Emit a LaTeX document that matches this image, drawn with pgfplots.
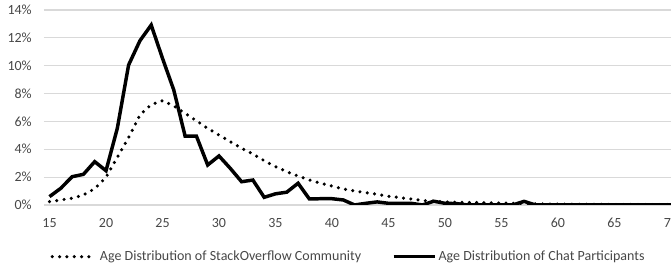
\documentclass[border=0pt]{standalone}
\usepackage{pgfplots}
\pgfplotsset{compat=1.18}
\usepackage{pgfplotstable}
\usepackage{fontspec}
\setmainfont{Carlito}
\definecolor{txt}{HTML}{474747}
\definecolor{grid}{HTML}{D9D9D9}

\pgfplotstableread{
age so chat
15 0.24 0.60
16 0.36 1.20
17 0.48 2.03
18 0.72 2.20
19 1.17 3.11
20 1.98 2.46
21 3.42 5.50
22 4.83 10.05
23 6.46 11.79
24 7.20 12.92
25 7.49 10.53
26 7.11 8.25
27 6.58 4.95
28 6.05 4.95
29 5.50 2.87
30 5.02 3.52
31 4.55 2.63
32 4.07 1.67
33 3.66 1.79
34 3.18 0.55
35 2.75 0.80
36 2.39 0.92
37 2.08 1.56
38 1.79 0.43
39 1.56 0.45
40 1.36 0.45
41 1.15 0.36
42 1.00 0.00
43 0.89 0.12
44 0.77 0.22
45 0.62 0.12
46 0.53 0.12
47 0.43 0.12
48 0.33 0.00
49 0.26 0.27
50 0.22 0.12
51 0.19 0.10
52 0.18 0.00
53 0.17 0.00
54 0.15 0.00
55 0.14 0.00
56 0.12 0.00
57 0.10 0.26
58 0.08 0.00
59 0.07 0.00
60 0.06 0.00
61 0.05 0.00
62 0.05 0.00
63 0.04 0.00
64 0.04 0.00
65 0.03 0.00
66 0.03 0.00
67 0.03 0.00
68 0.02 0.00
69 0.02 0.00
70 0.02 0.00
}\data

\begin{document}
\begin{tikzpicture}
\begin{axis}[
  scale only axis,
  width=474.6pt, height=146.25pt,
  xmin=14.5, xmax=70.5, ymin=0, ymax=14,
  xtick={15,20,...,70},
  ytick={0,2,...,14},
  yticklabels={0\%,2\%,4\%,6\%,8\%,10\%,12\%,14\%},
  /pgf/number format/assume math mode=true,
  ymajorgrids,
  major grid style={line width=0.9pt, color=grid},
  axis line style={draw=none},
  major tick length=0pt,
  tick label style={font=\fontsize{10.5}{12}\selectfont, text=txt},
  yticklabel style={anchor=east, inner sep=0pt, xshift=-8.9pt},
  xticklabel style={anchor=base, inner sep=0pt, yshift=-17pt},
  legend style={at={(0.4800,0)}, anchor=center, yshift=-38.8pt,
    draw=none, fill=none, font=\fontsize{10.5}{12}\selectfont, text=txt,
    legend columns=2, inner sep=0pt,
    nodes={inner sep=0pt},
    /tikz/every even column/.append style={column sep=23pt}},
  legend cell align=left,
]
\addplot[black, line width=2.6pt, line cap=round, dash pattern=on 0pt off 5.5pt,
  legend image code/.code={\draw[black, line width=2.6pt, line cap=round, dash pattern=on 0pt off 5.5pt] (0pt,0pt) -- (27.6pt,0pt); \path (34.5pt,0pt);}]
  table[x=age, y=so] {\data};
\addlegendentry{Age Distribution of StackOverflow Community}
\addplot[black, line width=2.6pt, line join=miter,
  legend image code/.code={\draw[black, line width=2.6pt] (0pt,0pt) -- (30.75pt,0pt); \path (32.5pt,0pt);}]
  table[x=age, y=chat] {\data};
\addlegendentry{Age Distribution of Chat Participants}
\end{axis}
\pgfresetboundingbox
\path[use as bounding box] (-32.9pt,-46.5pt) rectangle (470.4pt,153.75pt);
\end{tikzpicture}
\end{document}
